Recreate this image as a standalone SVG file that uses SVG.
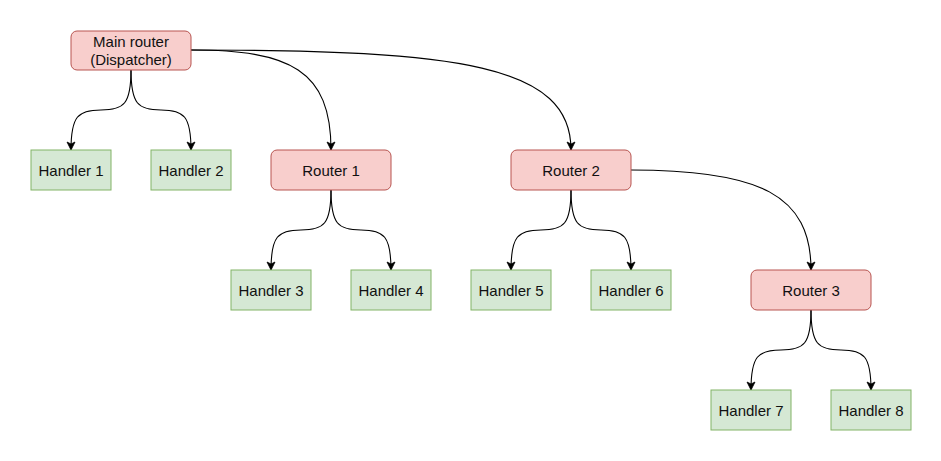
<svg xmlns="http://www.w3.org/2000/svg" width="941" height="461" viewBox="0 0 941 461">
<style>
.router rect{fill:#f8cecc;stroke:#b85450;stroke-width:1}
.handler rect{fill:#d5e8d4;stroke:#82b366;stroke-width:1}
text{font-family:"Liberation Sans",Arial,sans-serif;font-size:15px;fill:#111;text-anchor:middle}
.edge{fill:none;stroke:#000;stroke-width:1.1;marker-end:url(#arr)}
</style>
<defs>
<marker id="arr" markerUnits="userSpaceOnUse" markerWidth="10" markerHeight="10" viewBox="0 0 10 10" refX="9" refY="5" orient="auto">
<path d="M1,1 L9,5 L1,9 L3,5 z" fill="#000" stroke="#000" stroke-width="0.8"/>
</marker>
</defs>
<rect width="941" height="461" fill="#fff"/>
<g id="connectors">
<path class="edge" d="M131 70 C131 104 124 110 101 110 C78 110 71 116 71 150"/>
<path class="edge" d="M131 70 C131 104 138 110 161 110 C184 110 191 116 191 150"/>
<path class="edge" d="M191 50 C290 50 331 70 331 150"/>
<path class="edge" d="M191 50 C460 50 571 65 571 150"/>
<path class="edge" d="M331 190 C331 224 324 230 301 230 C278 230 271 236 271 270"/>
<path class="edge" d="M331 190 C331 224 338 230 361 230 C384 230 391 236 391 270"/>
<path class="edge" d="M571 190 C571 224 564 230 541 230 C518 230 511 236 511 270"/>
<path class="edge" d="M571 190 C571 224 578 230 601 230 C624 230 631 236 631 270"/>
<path class="edge" d="M631 170 C760 170 811 195 811 270"/>
<path class="edge" d="M811 310 C811 344 804 350 781 350 C758 350 751 356 751 390"/>
<path class="edge" d="M811 310 C811 344 818 350 841 350 C864 350 871 356 871 390"/>
</g>
<g id="main" class="router"><rect x="71" y="31" width="120" height="39" rx="6"/><text x="131" y="47">Main router</text><text x="131" y="65">(Dispatcher)</text></g>
<g id="r1" class="router"><rect x="271" y="150" width="120" height="40" rx="6"/><text x="331" y="175.5">Router 1</text></g>
<g id="r2" class="router"><rect x="511" y="150" width="120" height="40" rx="6"/><text x="571" y="175.5">Router 2</text></g>
<g id="r3" class="router"><rect x="751" y="270" width="120" height="40" rx="6"/><text x="811" y="295.5">Router 3</text></g>
<g id="h1" class="handler"><rect x="31" y="150" width="80" height="40"/><text x="71" y="175.5">Handler 1</text></g>
<g id="h2" class="handler"><rect x="151" y="150" width="80" height="40"/><text x="191" y="175.5">Handler 2</text></g>
<g id="h3" class="handler"><rect x="231" y="270" width="80" height="40"/><text x="271" y="295.5">Handler 3</text></g>
<g id="h4" class="handler"><rect x="351" y="270" width="80" height="40"/><text x="391" y="295.5">Handler 4</text></g>
<g id="h5" class="handler"><rect x="471" y="270" width="80" height="40"/><text x="511" y="295.5">Handler 5</text></g>
<g id="h6" class="handler"><rect x="591" y="270" width="80" height="40"/><text x="631" y="295.5">Handler 6</text></g>
<g id="h7" class="handler"><rect x="711" y="390" width="80" height="40"/><text x="751" y="415.5">Handler 7</text></g>
<g id="h8" class="handler"><rect x="831" y="390" width="80" height="40"/><text x="871" y="415.5">Handler 8</text></g>
</svg>
